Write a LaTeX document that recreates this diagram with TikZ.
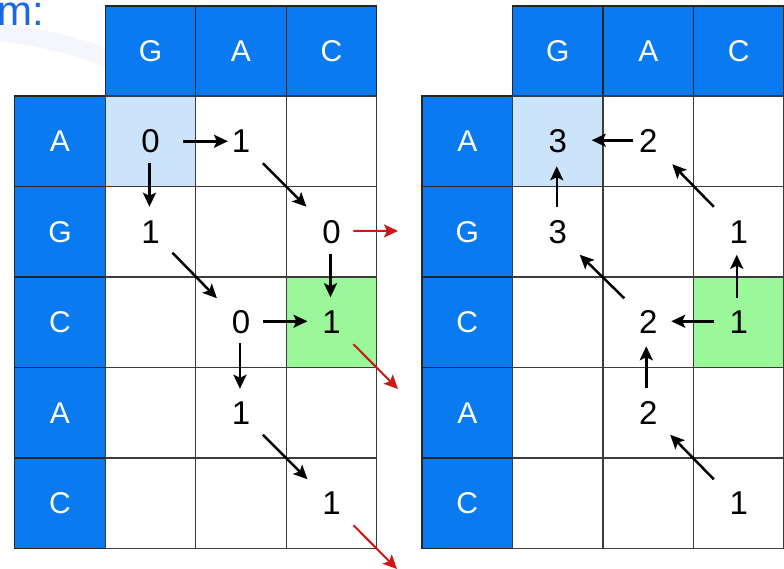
\documentclass[tikz,border=0pt]{standalone}
\usepackage{fontspec}
\setmainfont{Liberation Sans}
\usetikzlibrary{arrows.meta}
\definecolor{hdr}{RGB}{10,122,240}
\definecolor{lbl}{RGB}{204,228,250}
\definecolor{grn}{RGB}{154,247,154}
\definecolor{gridc}{RGB}{60,60,60}
\definecolor{redc}{RGB}{204,24,24}
\definecolor{ttl}{RGB}{26,104,226}
\definecolor{wmark}{RGB}{245,246,252}
\begin{document}
\begin{tikzpicture}[x=1pt,y=-1pt,
  cell/.style={draw=gridc,line width=1.3pt,minimum size=90.5pt,inner sep=0pt,fill=white},
  hcell/.style={cell,fill=hdr,draw=black!85,text=white,font=\fontsize{30}{30}\selectfont},
  num/.style={inner sep=0pt,font=\fontsize{33}{33}\selectfont},
  arr/.style={line width=2.5pt,-{Stealth[length=14pt,width=13pt,inset=3pt]}},
  redarr/.style={arr,draw=redc,line width=2pt}]
\useasboundingbox (0,0) rectangle (784,568);
% faint watermark
\draw[wmark,line width=18pt] (-10,30) .. controls (40,38) and (80,45) .. (115,62);
% title fragment
\node[anchor=base west,inner sep=0pt,text=ttl,font=\fontsize{42}{42}\selectfont] (title) at (-3,25) {m:};
% ---------- grids ----------
\foreach \g/\xo in {L/14.7,R/422}{
  \foreach \c/\t in {0/G,1/A,2/C}
    \node[hcell,minimum height=90pt] (\g-h-\c) at ({\xo+90.5*(\c+1)+45.25},51) {\t};
  \foreach \r/\t in {0/A,1/G,2/C,3/A,4/C}
    \node[hcell] (\g-v-\r) at ({\xo+45.25},{96+90.5*\r+45.25}) {\t};
  \foreach \r in {0,...,4}
    \foreach \c in {0,1,2}
      \node[cell] (\g-\r-\c) at ({\xo+90.5*(\c+1)+45.25},{96+90.5*\r+45.25}) {};
  \node[cell,fill=lbl] (\g-0-0) at ({\xo+90.5+45.25},{96+45.25}) {};
  \node[cell,fill=grn] (\g-2-2) at ({\xo+90.5*3+45.25},{96+90.5*2+45.25}) {};
}
% ---------- numbers ----------
\foreach \r/\c/\v in {0/0/0,0/1/1,1/0/1,1/2/0,2/1/0,2/2/1,3/1/1,4/2/1}
  \node[num] (LN-\r-\c) at (L-\r-\c) {\v};
\foreach \r/\c/\v in {0/0/3,0/1/2,1/0/3,1/2/1,2/1/2,2/2/1,3/1/2,4/2/1}
  \node[num] (RN-\r-\c) at (R-\r-\c) {\v};
% ---------- left arrows ----------
\draw[arr] ([shift={(33,0)}]L-0-0.center) -- ([shift={(-13,0)}]L-0-1.center);
\draw[arr] ([shift={(-1,22)}]L-0-0.center) -- ([shift={(-1,-25)}]L-1-0.center);
\draw[arr] ([shift={(22,22)}]L-0-1.center) -- ([shift={(-25,-25)}]L-1-2.center);
\draw[arr] ([shift={(22,21)}]L-1-0.center) -- ([shift={(-24,-24)}]L-2-1.center);
\draw[arr] ([shift={(-1,22)}]L-1-2.center) -- ([shift={(-1,-25)}]L-2-2.center);
\draw[arr] ([shift={(22,-1)}]L-2-1.center) -- ([shift={(-24,-1)}]L-2-2.center);
\draw[arr] ([shift={(-1,21)}]L-2-1.center) -- ([shift={(-1,-24)}]L-3-1.center);
\draw[arr] ([shift={(22,22)}]L-3-1.center) -- ([shift={(-24,-24)}]L-4-2.center);
% red arrows
\coordinate (rA) at (398,231);
\coordinate (rB) at (398,389);
\coordinate (rC) at (397,569);
\draw[redarr] ([shift={(22,-1)}]L-1-2.center) -- (rA);
\draw[redarr] ([shift={(22,22)}]L-2-2.center) -- (rB);
\draw[redarr] ([shift={(22,22)}]L-4-2.center) -- (rC);
% ---------- right arrows ----------
\draw[arr] ([shift={(-15,-1)}]R-0-1.center) -- ([shift={(34,-1)}]R-0-0.center);
\draw[arr] ([shift={(-1,-25)}]R-1-0.center) -- ([shift={(-1,25)}]R-0-0.center);
\draw[arr] ([shift={(-25,-25)}]R-1-2.center) -- ([shift={(24,23)}]R-0-1.center);
\draw[arr] ([shift={(-2,-24)}]R-2-2.center) -- ([shift={(-2,23)}]R-1-2.center);
\draw[arr] ([shift={(-25,-1)}]R-2-2.center) -- ([shift={(23,-1)}]R-2-1.center);
\draw[arr] ([shift={(-24,-24)}]R-2-1.center) -- ([shift={(22,23)}]R-1-0.center);
\draw[arr] ([shift={(-2,-25)}]R-3-1.center) -- ([shift={(-2,24)}]R-2-1.center);
\draw[arr] ([shift={(-25,-24)}]R-4-2.center) -- ([shift={(22,22)}]R-3-1.center);
\end{tikzpicture}
\end{document}
